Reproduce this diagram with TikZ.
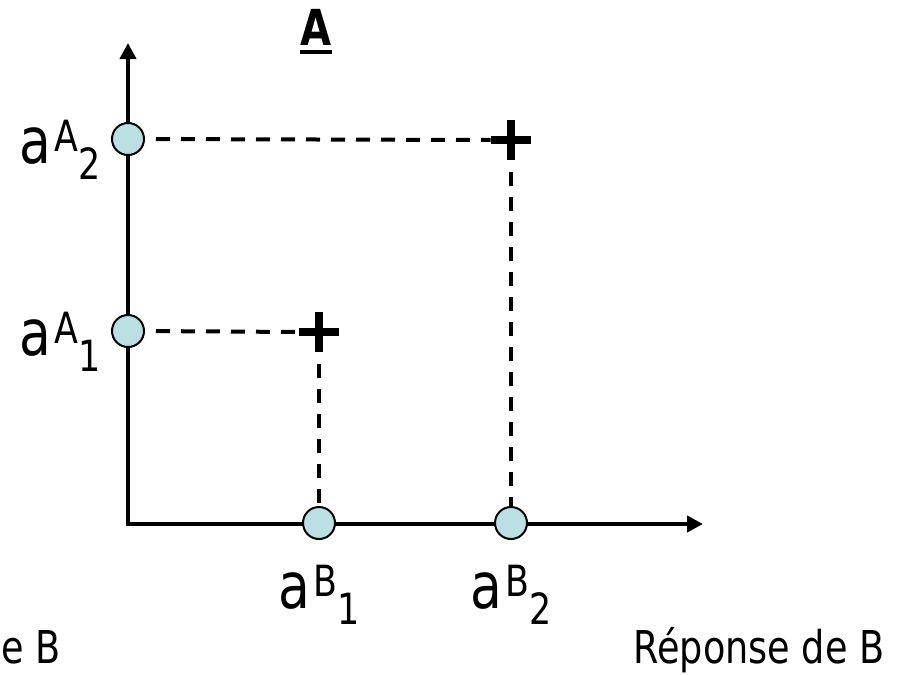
\documentclass[tikz,border=0pt]{standalone}
\usepackage{fontspec}
\setmainfont{DejaVu Sans}[FakeStretch=0.81]
\usetikzlibrary{arrows.meta,positioning}
\definecolor{Dot}{HTML}{BBE0E3}
\newcommand{\lbl}[3]{#1\kern1.5pt\raisebox{6pt}{\fontsize{21.5pt}{23pt}\selectfont #2}\raisebox{-8pt}{\fontsize{21.5pt}{23pt}\selectfont #3}}
\newcommand{\ulbold}[1]{\setbox0\hbox{\bfseries #1}\rlap{\usebox0}\rule[-4.5pt]{\wd0}{2pt}}

\begin{document}
\begin{tikzpicture}[x=0.5pt,y=-0.5pt,
    ax/.style={line width=2pt,{Triangle[length=8pt,width=8pt]}-{Triangle[length=8pt,width=8pt]}},
    val/.style={circle,draw,line width=1pt,fill=Dot,minimum size=16pt,inner sep=0},
    mk/.style={inner sep=0,minimum size=20pt},
    guide/.style={line width=2pt,dash pattern=on 7pt off 5.5pt},
    lab/.style={inner sep=0,font=\fontsize{32pt}{35pt}\selectfont},
    txt/.style={inner sep=0,font=\fontsize{22.6pt}{26pt}\selectfont}]
  \useasboundingbox (0,0) rectangle (901,675);
  % axes
  \coordinate (o) at (128,524);
  \coordinate (ytip) at (128,43);
  \coordinate (xtip) at (703,524);
  \draw[ax] (ytip) -- (o) -- (xtip);
  % points on the axes and the two crosses
  \node[mk] (p2) at (511,140) {};
  \node[mk] (p1) at (319,332) {};
  \draw[guide,shorten <=6pt] (128,139) ++(16,0) -- (p2.west);
  \draw[guide,shorten <=6pt] (128,331) ++(16,0) -- (p1.west);
  \draw[guide,shorten <=6pt] (p2.south) -- (511,507);
  \draw[guide,shorten <=6pt] (p1.south) -- (319,507);
  \draw[line width=4pt] (p2.west) -- (p2.east) (p2.north) -- (p2.south);
  \draw[line width=4pt] (p1.west) -- (p1.east) (p1.north) -- (p1.south);
  \node[val] (a2) at (128,139) {};
  \node[val] (a1) at (128,331) {};
  \node[val] (b1) at (319,523) {};
  \node[val] (b2) at (511,523) {};
  % labels
  \node[lab,anchor=base east] (la2) at ([xshift=-5pt,yshift=-12pt]a2.west) {\lbl{a}{A}{2}};
  \node[lab,anchor=base east] (la1) at ([xshift=-5pt,yshift=-12pt]a1.west) {\lbl{a}{A}{1}};
  \node[lab,anchor=base] (lb1) at ([yshift=-42.5pt]b1) {\lbl{a}{B}{1}};
  \node[lab,anchor=base] (lb2) at ([yshift=-42.5pt]b2) {\lbl{a}{B}{2}};
  \node[inner sep=0,anchor=base,font=\fontsize{24.8pt}{28pt}\selectfont] (head) at (316,45) {\ulbold{A}};
  \node[txt,anchor=base west] (resp) at (633,663) {Réponse de B};
  \node[txt,anchor=base east] (respcut) at (61,663) {Réponse de B};
\end{tikzpicture}
\end{document}
